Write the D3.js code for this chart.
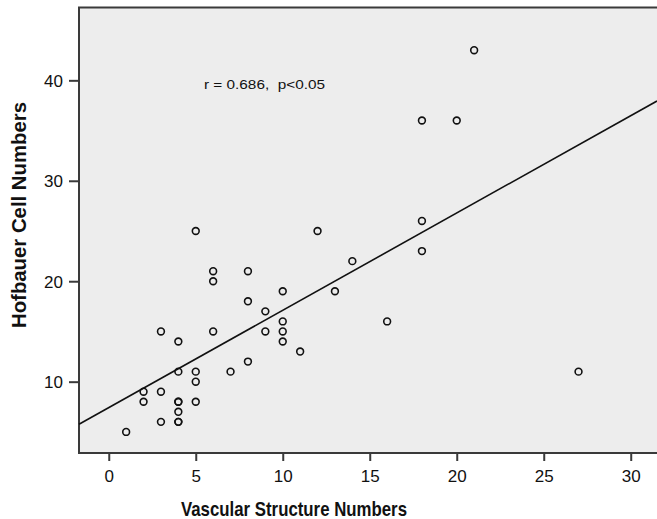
<!DOCTYPE html>
<html>
<head>
<meta charset="utf-8">
<script src="https://cdn.jsdelivr.net/npm/d3@7"></script>
<style>
  html, body { margin: 0; padding: 0; background: #fff; }
  svg { display: block; }
  text { font-family: Arial, "Liberation Sans", sans-serif; fill: #111; }
</style>
</head>
<body>
<svg id="chart" width="657" height="519"></svg>
<script>
// Vascular structure count (x) vs Hofbauer cell count (y), one entry per case
const vascular = [1, 2, 2, 3, 3, 3, 4, 4, 4, 4, 4, 4, 4, 5, 5, 5, 5, 6, 6, 6, 7, 8, 8, 8, 9, 9,
                  10, 10, 10, 10, 11, 12, 13, 14, 16, 18, 18, 18, 20, 21, 27];
const hofbauer = [5, 9, 8, 15, 9, 6, 14, 11, 8, 8, 7, 6, 6, 25, 11, 10, 8, 21, 20, 15, 11, 21, 18, 12, 17, 15,
                  19, 16, 15, 14, 13, 25, 19, 22, 16, 36, 26, 23, 36, 43, 11];
const xTicks = [0, 5, 10, 15, 20, 25, 30];
const yTicks = [10, 20, 30, 40];
const statLabel = "r = 0.686,  p<0.05";
const xTitle = "Vascular Structure Numbers";
const yTitle = "Hofbauer Cell Numbers";

const svg = d3.select("#chart");
const panel = { left: 79, top: 7.5, bottom: 453, right: 657 };

const x = d3.scaleLinear().domain([-1.71, 31.51]).range([panel.left, panel.right]);
const y = d3.scaleLinear().domain([2.9, 47.25]).range([panel.bottom, panel.top]);

// plot panel (continues past the right edge of the page)
svg.append("rect")
  .attr("x", panel.left).attr("y", panel.top)
  .attr("width", panel.right - panel.left + 20).attr("height", panel.bottom - panel.top)
  .attr("fill", "#ededed")
  .attr("stroke", "#3a3a3a").attr("stroke-width", 2);

// axes
const xAxis = svg.append("g")
  .attr("transform", `translate(0,${panel.bottom})`)
  .call(d3.axisBottom(x).tickValues(xTicks).tickSize(8).tickPadding(9).tickSizeOuter(0));
const yAxis = svg.append("g")
  .attr("transform", `translate(${panel.left},0)`)
  .call(d3.axisLeft(y).tickValues(yTicks).tickSize(10).tickPadding(6).tickSizeOuter(0));
[xAxis, yAxis].forEach(g => {
  g.select(".domain").remove();
  g.selectAll(".tick line").attr("stroke", "#3a3a3a").attr("stroke-width", 2);
  g.selectAll(".tick text")
    .attr("font-size", 17)
    .attr("font-family", "Arial, 'Liberation Sans', sans-serif")
    .attr("fill", "#111");
});
yAxis.selectAll(".tick text").attr("dy", "0.35em");

// least-squares fit line across the full x range
const n = vascular.length;
const mx = d3.mean(vascular), my = d3.mean(hofbauer);
let sxy = 0, sxx = 0;
for (let i = 0; i < n; i++) {
  sxy += (vascular[i] - mx) * (hofbauer[i] - my);
  sxx += (vascular[i] - mx) ** 2;
}
const slope = sxy / sxx, intercept = my - slope * mx;
const [x0, x1] = x.domain();
svg.append("line")
  .attr("x1", x(x0)).attr("y1", y(intercept + slope * x0))
  .attr("x2", x(x1)).attr("y2", y(intercept + slope * x1))
  .attr("stroke", "#111").attr("stroke-width", 1.6);

// points
svg.append("g").selectAll("circle")
  .data(vascular.map((v, i) => [v, hofbauer[i]]))
  .join("circle")
  .attr("cx", d => x(d[0])).attr("cy", d => y(d[1]))
  .attr("r", 3.4)
  .attr("fill", "none").attr("stroke", "#111").attr("stroke-width", 1.6);

// correlation annotation
svg.append("text")
  .attr("x", 204).attr("y", 88.5)
  .attr("font-size", 13.5)
  .attr("xml:space", "preserve")
  .attr("textLength", 121).attr("lengthAdjust", "spacingAndGlyphs")
  .text(statLabel);

// axis titles
svg.append("text")
  .attr("x", 294).attr("y", 516)
  .attr("text-anchor", "middle")
  .attr("font-size", 20.5).attr("font-weight", "bold")
  .attr("textLength", 226).attr("lengthAdjust", "spacingAndGlyphs")
  .text(xTitle);
svg.append("text")
  .attr("transform", "translate(26,215) rotate(-90)")
  .attr("text-anchor", "middle")
  .attr("font-size", 20.5).attr("font-weight", "bold")
  .attr("textLength", 226).attr("lengthAdjust", "spacingAndGlyphs")
  .text(yTitle);
</script>
</body>
</html>
